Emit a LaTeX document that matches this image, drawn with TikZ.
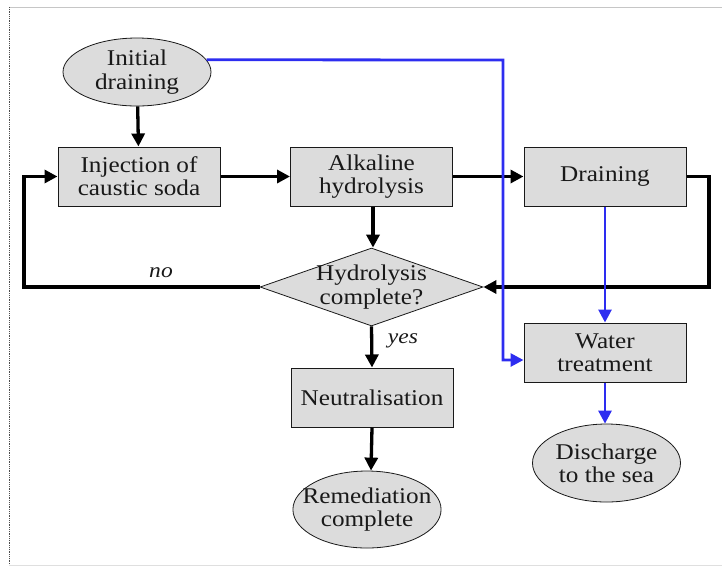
\documentclass[tikz,border=0pt]{standalone}
\usepackage{fontspec}
\setmainfont[FakeStretch=1.12]{Liberation Serif}
\usetikzlibrary{shapes.geometric,arrows.meta}
\definecolor{boxgray}{RGB}{220,220,220}
\definecolor{flowblue}{RGB}{45,45,240}
\definecolor{inkgray}{RGB}{25,25,25}
\begin{document}
\begin{tikzpicture}[x=1pt,y=-1pt,
  txt/.style={font=\fontsize{22.5}{23.3}\selectfont, align=center, text=inkgray},
  procbox/.style={txt, draw=inkgray, fill=boxgray, line width=1pt,
     minimum width=162pt, minimum height=59pt, inner sep=0pt},
  termell/.style={txt, ellipse, draw=inkgray, fill=boxgray, line width=0.8pt,
     minimum width=148pt, minimum height=68pt, inner sep=0pt},
  decision/.style={txt, diamond, draw=inkgray, fill=boxgray, line width=0.8pt,
     aspect=3, inner xsep=0pt, inner ysep=-5pt, minimum width=223pt, minimum height=78pt},
  flow/.style={line width=3.3pt, black, -{Triangle[length=13pt,width=13pt]}},
  blueflow/.style={line width=2.8pt, flowblue, -{Triangle[length=13pt,width=13pt]}},
  lbl/.style={font=\itshape\fontsize{21}{22}\selectfont, text=inkgray}
]
\useasboundingbox (0,0) rectangle (722,566);
% frame
\draw[gray!45, line width=0.8pt] (9,7) -- (722,7);
\draw[black!70, densely dotted, line width=0.8pt] (9,7) -- (9,566);
\draw[gray!25, line width=0.8pt] (9,565) -- (722,565);

% nodes
\node[termell] (init) at (137,72) {Initial\\draining};
\node[procbox] (inj) at (139,176.5) {Injection of\\caustic soda};
\node[procbox] (alk) at (371.5,176.5) {Alkaline\\hydrolysis};
\node[procbox] (drain) at (605,176.5) {Draining};
\node[decision] (dec) at (371.5,287) {Hydrolysis\\complete?};
\node[procbox] (wt) at (605,352.5) {Water\\treatment};
\node[procbox] (neu) at (372,397.5) {Neutralisation};
\node[termell, minimum height=77pt, inner xsep=-12pt] (rem) at (367,509.5) {Remediation\\complete};
\node[termell, minimum height=78pt] (dis) at (606.5,463) {Discharge\\to the sea};

% helper coordinates
\coordinate (lp) at (24,287);
\coordinate (rp) at (709,287);
\coordinate (bp) at (503,60);

% black connectors
\draw[flow] (init) -- (inj);
\draw[flow] (inj) -- (alk);
\draw[flow] (alk) -- (drain);
\draw[flow] ([xshift=1.5pt]alk.south) -- ([xshift=1.5pt]dec.north);
\draw[flow] (drain.east) -| (rp) -- (dec.east);
\draw[flow] (dec.west) -- (lp) |- (inj.west);
\draw[flow] (dec.south) -- (neu.north);
\draw[flow] (neu.south) -- ([xshift=4pt]rem.north);

% blue connectors
\draw[blueflow] (init.10) -- (bp) |- ([yshift=-7.5pt]wt.west);
\draw[blueflow] (drain.south) -- (wt.north);
\draw[blueflow] (wt.south) -- ([xshift=-1.5pt]dis.north);

% labels
\node[lbl] (no) at (161,273) {no};
\node[lbl] (yes) at (403,341) {yes};
\end{tikzpicture}
\end{document}
